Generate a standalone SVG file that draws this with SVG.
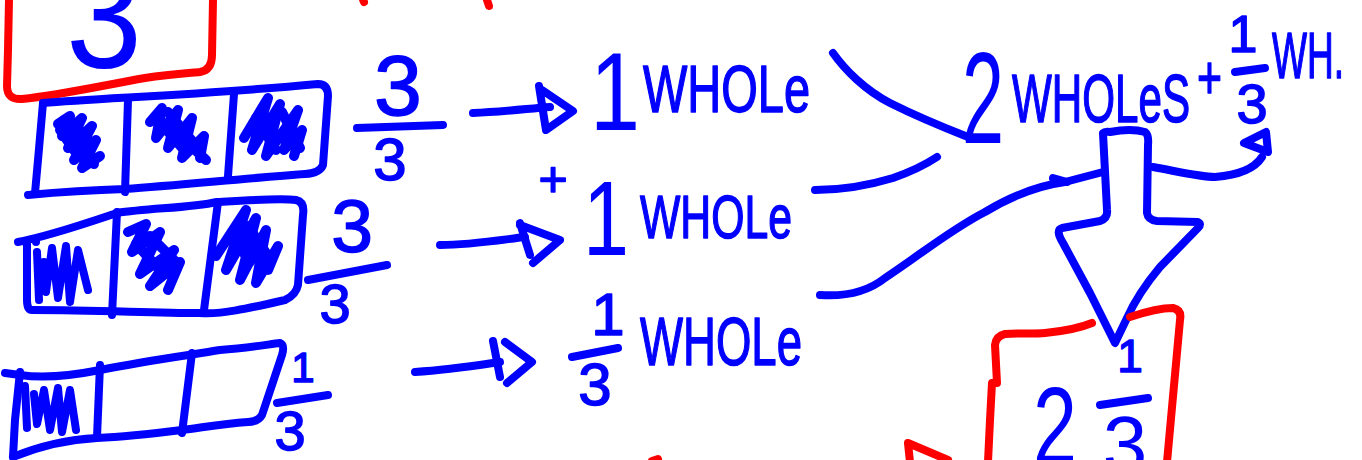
<svg xmlns="http://www.w3.org/2000/svg" width="1362" height="460" viewBox="0 0 1362 460">
  <style>
    .ink { fill: none; stroke-width: 8; stroke-linecap: round; stroke-linejoin: round; }
    .blue { stroke: #0000ff; }
    .red { stroke: #ff0000; }
    .hatch { stroke-width: 10; }
    .hw { font-family: "Liberation Sans", "DejaVu Sans", sans-serif; fill: #0000ff; stroke: #0000ff; stroke-width: 1.5; stroke-linejoin: round; }
    .big { stroke: none; }
    .mid { text-anchor: middle; }
  </style>
  <rect width="1362" height="460" fill="#ffffff"/>

  <!-- red answer box, top left -->
  <g id="box-top">
    <path class="ink red" d="M9,0 L8,50 L7,86 Q7,100 22,99 C60,95 100,86 145,78 C170,74 190,73 200,72 Q212,70 212,55 L213,0"/>
    <text class="hw big" x="66" y="68" font-size="150" textLength="76" lengthAdjust="spacingAndGlyphs">3</text>
    <path class="ink red" d="M362,-3 L364,2 M486,-3 L489,6"/>
  </g>

  <!-- bar of thirds, all three shaded -->
  <g id="bar-1">
    <path class="ink blue" d="M43,103 C100,98 200,95 318,84 Q328,84 328,96 L323,165 Q320,173 305,174 C250,178 180,185 125,189 C90,190 60,192 28,195"/>
    <path class="ink blue" d="M43,103 L38,160 L35,193 M128,100 L125,192 M234,94 L228,176"/>
    <path class="ink blue hatch" d="M58,124 L70,116 L62,136 L82,118 L68,148 L92,126 L74,160 L96,140 L82,168 L100,156"/>
    <path class="ink blue hatch" d="M64,120 L86,146 M70,142 L94,164 M60,130 L78,156"/>
    <path class="ink blue hatch" d="M150,122 L162,108 L156,138 L178,110 L168,148 L192,118 L182,158 L204,136 L200,158"/>
    <path class="ink blue hatch" d="M156,118 L184,150 M168,112 L198,148 M178,134 L206,160"/>
    <path class="ink blue hatch" d="M244,138 L268,98 L252,150 L280,104 L266,156 L298,110 L284,150 L302,130 L294,156"/>
    <path class="ink blue hatch" d="M256,118 L276,150 M282,112 L300,148"/>
    <text class="hw mid" x="398" y="115" font-size="86">3</text>
    <path class="ink blue" d="M357,128 L443,125"/>
    <text class="hw mid" x="390" y="180" font-size="60">3</text>
  </g>

  <!-- bar of thirds, all three shaded -->
  <g id="bar-2">
    <path class="ink blue" d="M18,242 C50,236 90,222 117,213 C150,208 190,208 217,202 C250,200 280,198 296,200 Q305,202 303,215 L298,285 Q296,295 285,300 C250,308 220,315 200,313 C150,313 100,310 32,310 Q27,310 27,300 L27,242"/>
    <path class="ink blue" d="M117,212 L112,315 M218,202 L204,310"/>
    <path class="ink blue" stroke-width="9" d="M36,240 L36,242 M37,252 L39,300 M44,262 L46,292 L52,248 L58,298 L66,246 L70,302 L78,250 L88,290"/>
    <path class="ink blue hatch" d="M128,232 L146,224 L132,252 L160,232 L140,274 L174,250 L150,286 L180,262 L168,290"/>
    <path class="ink blue hatch" d="M136,244 L160,270 M150,236 L176,262"/>
    <path class="ink blue hatch" d="M216,256 L246,210 L226,270 L256,218 L240,280 L266,230 L256,283 L278,246 L268,270"/>
    <path class="ink blue hatch" d="M232,236 L250,262 M248,226 L268,256"/>
    <text class="hw mid" x="352" y="252" font-size="75">3</text>
    <path class="ink blue" d="M308,280 L387,265"/>
    <text class="hw mid" x="335" y="323" font-size="56">3</text>
  </g>

  <!-- bar of thirds, one shaded -->
  <g id="bar-3">
    <path class="ink blue" d="M5,373 L20,375 C40,378 70,376 100,370 C150,360 190,355 220,350 C250,348 270,344 280,343 Q285,345 282,355 L262,415 Q258,422 248,422 C220,424 200,428 182,430 C150,434 120,437 97,438 C60,440 30,450 13,457"/>
    <path class="ink blue" d="M20,372 L15,420 L13,457 M100,365 L97,437 M192,353 L182,433"/>
    <path class="ink blue" stroke-width="9" d="M25,386 L27,428 M34,394 L37,424 L44,390 L50,430 L58,388 L62,432 L70,390 L76,430"/>
    <text class="hw mid" x="303" y="382" font-size="42">1</text>
    <path class="ink blue" d="M277,403 L328,395"/>
    <text class="hw mid" x="290" y="450" font-size="56">3</text>
  </g>

  <!-- arrows from bars to wholes -->
  <g id="arrows">
    <path class="ink blue" d="M473,113 C500,112 525,109 550,107"/>
    <path class="ink blue" d="M539,86 L546,130 L573,111 L542,90"/>
    <path class="ink blue" d="M440,245 C470,245 500,240 525,237"/>
    <path class="ink blue" d="M520,223 L530,255 M520,225 L560,240 L533,263"/>
    <path class="ink blue" d="M415,372 C450,370 480,365 500,362"/>
    <path class="ink blue" d="M493,341 L500,377 M505,342 L532,362 L507,383"/>
  </g>

  <g id="whole-1">
    <text class="hw big" x="590" y="130" font-size="112" textLength="50" lengthAdjust="spacingAndGlyphs">1</text>
    <text class="hw" x="643" y="112" font-size="66" textLength="167" lengthAdjust="spacingAndGlyphs">WHOLe</text>
  </g>

  <g id="plus">
    <text class="hw mid" x="553" y="196" font-size="50">+</text>
  </g>

  <g id="whole-2">
    <text class="hw big" x="583" y="255" font-size="105" textLength="46" lengthAdjust="spacingAndGlyphs">1</text>
    <text class="hw" x="640" y="238" font-size="62" textLength="152" lengthAdjust="spacingAndGlyphs">WHOLe</text>
  </g>

  <g id="third-whole">
    <text class="hw mid" x="608" y="335" font-size="60">1</text>
    <path class="ink blue" d="M572,357 L618,348"/>
    <text class="hw mid" x="595" y="405" font-size="60">3</text>
    <text class="hw" x="640" y="365" font-size="68" textLength="162" lengthAdjust="spacingAndGlyphs">WHOLe</text>
  </g>

  <!-- joining strokes into the sum -->
  <g id="connectors">
    <path class="ink blue" d="M833,53 C845,70 865,90 890,103 C920,118 945,128 968,137"/>
    <path class="ink blue" d="M815,190 C845,190 870,185 893,178 C910,172 925,165 937,157"/>
    <path class="ink blue" d="M820,295 C850,297 870,290 885,278 C920,255 950,230 985,212 C1010,197 1035,186 1065,182 L1103,172"/>
    <path class="ink blue" stroke-width="10" d="M1053,178 L1067,182"/>
    <path class="ink blue" d="M1153,167 C1180,172 1200,177 1215,177 C1240,175 1255,168 1262,157"/>
    <path class="ink blue" d="M1244,143 L1266,132 L1268,152 Z"/>
  </g>

  <g id="sum">
    <text class="hw big" x="962" y="143" font-size="130" textLength="42" lengthAdjust="spacingAndGlyphs">2</text>
    <text class="hw" x="1012" y="122" font-size="68" textLength="178" lengthAdjust="spacingAndGlyphs">WHOLeS</text>
    <text class="hw" x="1197" y="98" font-size="62" textLength="25" lengthAdjust="spacingAndGlyphs">+</text>
    <text class="hw mid" x="1243" y="52" font-size="52">1</text>
    <path class="ink blue" d="M1235,72 L1265,68"/>
    <text class="hw mid" x="1252" y="123" font-size="56">3</text>
    <text class="hw" x="1272" y="78" font-size="64" textLength="72" lengthAdjust="spacingAndGlyphs">WH.</text>
  </g>

  <!-- big down arrow -->
  <g id="down-arrow">
    <path class="ink blue" d="M1103,133 Q1105,131 1110,132 C1120,130 1135,129 1145,132 Q1149,135 1148,145 L1147,213 Q1148,220 1157,221 L1198,222 Q1202,224 1198,228 L1160,267 C1145,285 1135,300 1127,318 L1115,343 L1090,293 L1063,243 Q1055,230 1062,228 L1100,221 Q1108,218 1107,210 Z"/>
  </g>

  <!-- red answer box, bottom right -->
  <g id="box-bottom">
    <path class="ink red" d="M988,462 L990,420 L992,383 L997,383 L995,345 Q996,336 1005,334 C1020,333 1035,334 1045,333 C1065,331 1080,328 1092,323"/>
    <path class="ink red" d="M1130,317 C1145,312 1160,308 1173,308 Q1182,310 1180,320 L1167,462"/>
    <text class="hw big" x="1033" y="464" font-size="110" textLength="44" lengthAdjust="spacingAndGlyphs">2</text>
    <text class="hw mid" x="1130" y="372" font-size="46">1</text>
    <path class="ink blue" d="M1100,405 L1148,398"/>
    <text class="hw big mid" x="1125" y="472" font-size="80">3</text>
  </g>

  <g id="red-marks">
    <path class="ink red" d="M910,462 L908,443 L948,460"/>
    <path class="ink red" d="M652,461 L658,459"/>
  </g>
</svg>
